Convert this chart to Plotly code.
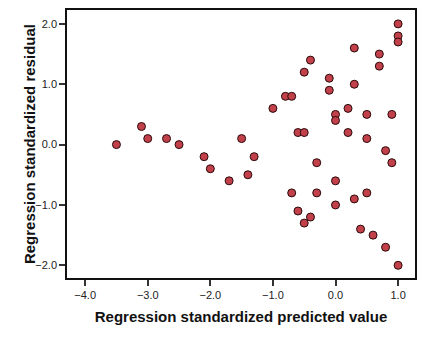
import plotly.graph_objects as go

predicted = [-3.5, -3.1, -3.0, -2.7, -2.5, -2.1, -2.0, -1.7, -1.5, -1.4, -1.3,
             1.0, 1.0, 1.0, 0.3, 0.7, 0.7, -0.4, -0.5, -0.1, -0.1, 0.3,
             -0.8, -0.7, -1.0, 0.0, 0.0, 0.2, 0.5, 0.9, -0.6, -0.5, 0.2, 0.5,
             -0.3, 0.8, 0.9,
             -0.7, -0.3, 0.0, 0.0, -0.6, -0.5, -0.4, 0.3, 0.5, 0.4, 0.6, 0.8, 1.0]
residual = [0.0, 0.3, 0.1, 0.1, 0.0, -0.2, -0.4, -0.6, 0.1, -0.5, -0.2,
            2.0, 1.8, 1.7, 1.6, 1.5, 1.3, 1.4, 1.2, 1.1, 0.9, 1.0,
            0.8, 0.8, 0.6, 0.5, 0.4, 0.6, 0.5, 0.5, 0.2, 0.2, 0.2, 0.1,
            -0.3, -0.1, -0.3,
            -0.8, -0.8, -0.6, -1.0, -1.1, -1.3, -1.2, -0.9, -0.8, -1.4, -1.5, -1.7, -2.0]

x_ticks = [-4.0, -3.0, -2.0, -1.0, 0.0, 1.0]
y_ticks = [-2.0, -1.0, 0.0, 1.0, 2.0]

title_font = dict(family="Arial, Liberation Sans", size=15, color="#111")

fig = go.Figure(go.Scatter(
    x=predicted, y=residual, mode="markers",
    marker=dict(size=8, color="#c1404a", line=dict(color="#2a0a0a", width=1)),
))

axis_common = dict(
    showgrid=False, zeroline=False, showline=True, linecolor="#111", linewidth=1.5,
    mirror=True, ticks="outside", ticklen=6, tickcolor="#333", tickwidth=1.5,
    tickfont=dict(family="Arial, Liberation Sans", size=11, color="#222"),
    tickformat=".1f",
)

fig.update_layout(
    width=425, height=340,
    margin=dict(l=67, r=9, t=8, b=62),
    paper_bgcolor="white", plot_bgcolor="white",
    showlegend=False,
    xaxis=dict(axis_common, range=[-4.29, 1.27], tickvals=x_ticks,
               title=dict(text="<b>Regression standardized predicted value</b>",
                          font=title_font, standoff=12)),
    yaxis=dict(axis_common, range=[-2.21, 2.23], tickvals=y_ticks),
    annotations=[dict(
        text="<b>Regression standardized residual</b>", textangle=-90,
        xref="paper", yref="paper", x=(29 - 67) / 349, y=0.5,
        xanchor="center", yanchor="middle", showarrow=False, font=title_font,
    )],
)

fig.write_html("out.html")
